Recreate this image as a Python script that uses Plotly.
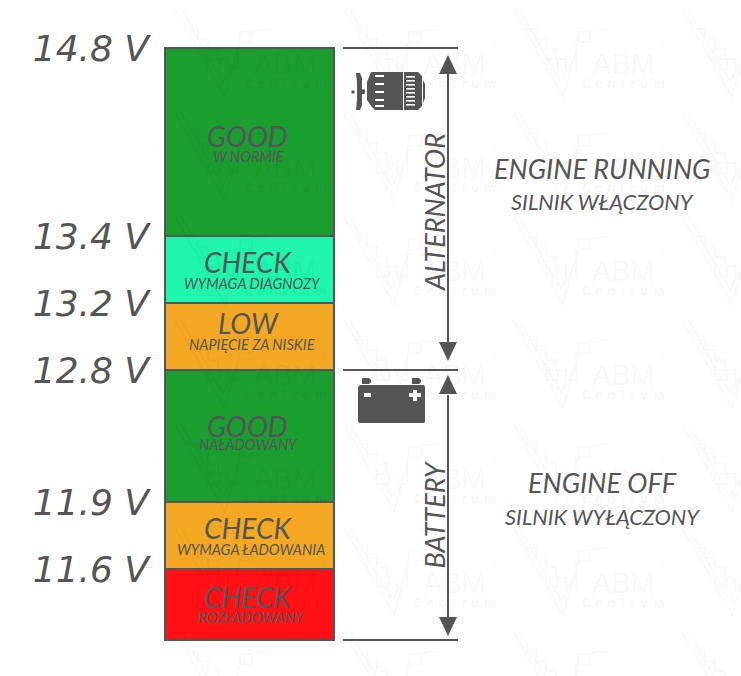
import plotly.graph_objects as go

# Data: bands from bottom to top, heights in chart units
band_heights = [71, 67, 132, 67, 67, 188]
band_colors = ["#fe1015", "#f4a723", "#1a9e30", "#f4a723", "#1ff5ad", "#1a9e30"]
band_titles = ["CHECK", "CHECK", "GOOD", "LOW", "CHECK", "GOOD"]
band_subtitles = ["ROZŁADOWANY", "WYMAGA ŁADOWANIA", "NAŁADOWANY",
                  "NAPIĘCIE ZA NISKIE", "WYMAGA DIAGNOZY", "W NORMIE"]
voltage_labels = ["11.6 V", "11.9 V", "12.8 V", "13.2 V", "13.4 V", "14.8 V"]

INK = "#555555"
FONT = "Lato"
L = 155
H = 676
BOTTOM = 640


def Y(py):
    return BOTTOM - py


fig = go.Figure()
base = 0
tickvals = []
for h, c in zip(band_heights, band_colors):
    fig.add_trace(go.Bar(x=[249.5], y=[h], base=[base], width=[169], marker=dict(
        color=c, line=dict(color=INK, width=2)), hoverinfo="skip", showlegend=False))
    base += h
    tickvals.append(base)

shapes = []
annotations = []


def line(x0, y0, x1, y1, w=2, color=INK):
    shapes.append(dict(type="line", xref="x", yref="y", x0=x0, x1=x1, y0=Y(y0), y1=Y(y1),
                       line=dict(color=color, width=w)))


def path(points, fill=INK):
    d = "M" + " L".join(f"{x},{Y(y)}" for x, y in points) + " Z"
    shapes.append(dict(type="path", xref="x", yref="y", path=d, fillcolor=fill, line=dict(width=0)))


def rect(x0, y0, x1, y1, fill=INK):
    shapes.append(dict(type="rect", xref="x", yref="y", x0=x0, x1=x1, y0=Y(y0), y1=Y(y1),
                       fillcolor=fill, line=dict(width=0)))


def text(x, y, s, size, angle=0, color=INK):
    annotations.append(dict(xref="x", yref="y", x=x, y=Y(y), text=s, showarrow=False,
                            textangle=angle, xanchor="center", yanchor="middle",
                            font=dict(family=FONT, size=size, color=color, style="italic")))


# Faint repeating watermark
WM = "rgba(0,0,0,0.028)"
WM_TEXT = "rgba(0,0,0,0.05)"
LOGO = [
    [(-110, -55), (-60, 33), (-45, -22)],
    [(-104, -55), (-62, 18), (-52, 0)],
    [(-97, -35), (-87, -35), (-87, -25), (-77, -25), (-77, -15), (-67, -15), (-67, -5), (-57, -5),
     (-57, 5), (-47, 5), (-47, -20)],
    [(-45, -22), (-33, -22), (-33, -32), (-45, -32), (-45, -22)],
    [(-33, -33), (-15, -35)],
    [(-77, -5), (-65, -5), (-65, 5), (-77, 5), (-77, -5)],
]
for col in range(-1, 5):
    for row in range(0, 7):
        cx = 116 + 169 * col
        cy = 64 + 103.7 * row
        d = " ".join("M" + " L".join(f"{cx + a},{Y(cy + b)}" for a, b in seg) for seg in LOGO)
        shapes.append(dict(type="path", xref="x", yref="y", path=d, fillcolor="rgba(0,0,0,0)",
                           line=dict(color=WM, width=2)))
        if col <= 3 and row <= 5:
            annotations.append(dict(xref="x", yref="y", x=cx, y=Y(cy), text="ABM", showarrow=False,
                                    font=dict(family="Liberation Sans", size=29, color=WM_TEXT)))
            annotations.append(dict(xref="x", yref="y", x=cx, y=Y(cy + 20), text="C e n t r u m", showarrow=False,
                                    font=dict(family="DejaVu Sans", size=12, color=WM_TEXT, weight="bold")))
            annotations.append(dict(xref="x", yref="y", x=cx + 39, y=Y(cy - 16), text="®", showarrow=False,
                                    font=dict(family="Liberation Sans", size=12, color=WM_TEXT)))

# Band labels
title_y = [597, 528, 426, 323, 262, 136]
sub_y = [617, 549, 444, 344, 283, 156]
title_x = [248, 248, 247.5, 248, 248, 247.5]
sub_x = [251, 250.5, 248, 252, 252.5, 248]
for tx, sx, ty, sy, t, s in zip(title_x, sub_x, title_y, sub_y, band_titles, band_subtitles):
    text(tx, ty, t, 28)
    text(sx, sy, s, 14.5)

# Right side brackets and arrows
for py in (48, 370, 640):
    line(343, py, 458, py)
line(448, 70, 448, 345)
path([(448, 55), (439, 74), (457, 74)])
path([(448, 361), (439, 342), (457, 342)])
line(448, 395, 448, 618)
path([(448, 375), (439, 394), (457, 394)])
path([(448, 636), (439, 617), (457, 617)])

text(434, 212, "ALTERNATOR", 27, -90)
text(434, 514.5, "BATTERY", 27, -90)
text(602.5, 168, "ENGINE RUNNING", 27)
text(602, 201, "SILNIK WŁĄCZONY", 21.8)
text(602.5, 482, "ENGINE OFF", 27)
text(602, 516, "SILNIK WYŁĄCZONY", 21.8)

# Alternator icon
rect(351.5, 90.5, 354.5, 93.5)
path([(356, 73), (360, 73), (362, 78), (362, 105), (360, 110), (356, 110), (357, 100), (357, 82)])
rect(362, 89.5, 365, 94)
path([(371, 72), (418, 72), (422, 76), (422, 106), (418, 110), (375, 110), (371, 106), (367, 100), (367, 82)])
path([(423, 80), (425, 84), (425, 98), (423, 103)])
rect(403, 72, 404, 110, "#ffffff")
for py in (76, 84, 92, 100, 106):
    rect(375, py - 1, 384, py + 1, "#ffffff")
for py in (76, 80, 84, 88, 92, 96, 100, 104):
    rect(406, py, 415, py + 1.6, "#ffffff")

# Battery icon
path([(360, 385), (424, 385), (425, 387), (425, 422), (424, 423), (360, 423), (358, 422), (358, 387)])
path([(362, 378), (369, 378), (371, 380), (371, 382), (369, 384), (362, 384)])
path([(412, 378), (419, 378), (421, 380), (421, 382), (419, 384), (412, 384)])
rect(364, 393, 371, 397, "#ffffff")
rect(409, 393, 421, 397, "#ffffff")
rect(413, 390, 417, 401, "#ffffff")

fig.update_layout(
    width=741, height=676, autosize=False,
    margin=dict(l=L, r=0, t=0, b=0),
    paper_bgcolor="white", plot_bgcolor="rgba(0,0,0,0)",
    barmode="overlay", bargap=0, showlegend=False,
    xaxis=dict(range=[L, 741], visible=False, fixedrange=True),
    yaxis=dict(range=[Y(H), Y(0)], showgrid=False, zeroline=False, showline=False, fixedrange=True,
               tickmode="array", tickvals=tickvals, ticktext=voltage_labels, ticks="", ticklabelstandoff=5,
               tickfont=dict(family="DejaVu Sans", size=36, color=INK, style="italic")),
    shapes=shapes, annotations=annotations,
)
fig.write_html("out.html", config=dict(displayModeBar=False),
               post_script="document.body.style.margin='0';document.documentElement.style.overflow='hidden';")
